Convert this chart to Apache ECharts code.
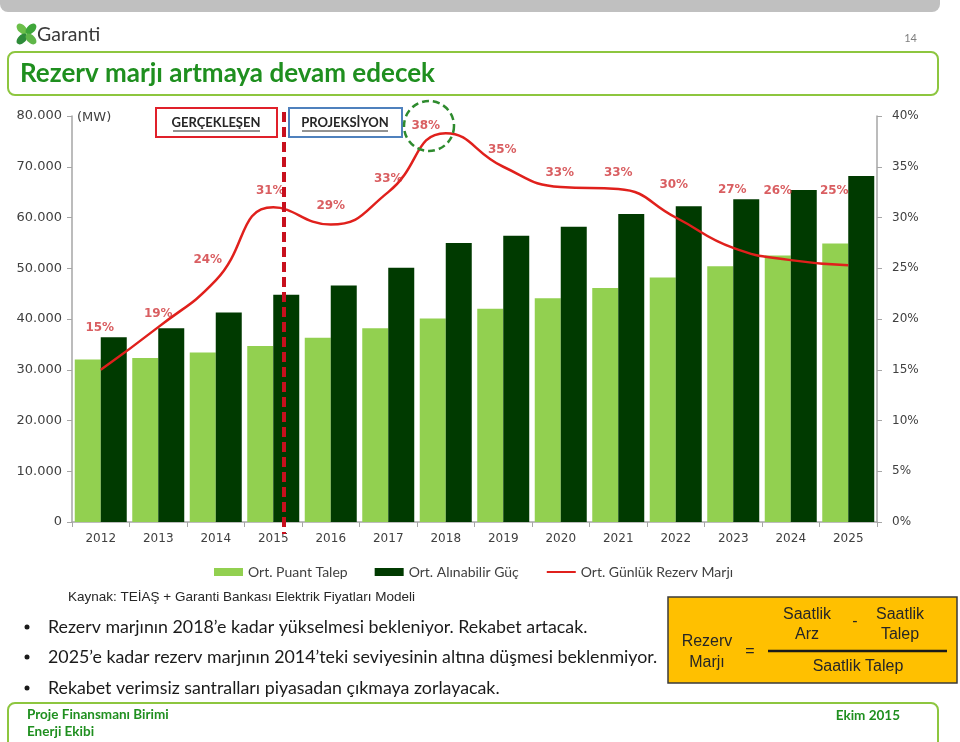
<!DOCTYPE html>
<html><head><meta charset="utf-8">
<script src="https://cdn.jsdelivr.net/npm/echarts@6/dist/echarts.min.js"></script>
<style>html,body{margin:0;padding:0;background:#fff}#c{width:960px;height:742px}</style>
</head><body><div id="c"></div>
<script>
// ---- data ----
const years = ['2012','2013','2014','2015','2016','2017','2018','2019','2020','2021','2022','2023','2024','2025'];
const peakDemand = [32000, 32300, 33400, 34700, 36300, 38200, 40100, 42000, 44100, 46100, 48200, 50400, 52500, 54900];
const availableCapacity = [36400, 38200, 41300, 44800, 46600, 50100, 55000, 56400, 58200, 60700, 62200, 63600, 65400, 68200];
const reserveMargin = [15, 19.2, 23.8, 31, 29.3, 32.5, 38.3, 35, 33, 32.8, 30, 27, 25.8, 25.3];
const seriesNames = ['Ort. Puant Talep', 'Ort. Alınabilir Güç', 'Ort. Günlük Rezerv Marjı'];
const bullets = [
  'Rezerv marjının 2018’e kadar yükselmesi bekleniyor. Rekabet artacak.',
  '2025’e kadar rezerv marjının 2014’teki seviyesinin altına düşmesi beklenmiyor.',
  'Rekabet verimsiz santralları piyasadan çıkmaya zorlayacak.'
];
// label placement (style only)
const labelOffsets = [[-1,-35],[0,-7],[-8,-14],[-3,-10],[0,-12],[0,-7],[-20,-1],[-1,-10],[-1,-8],[0,-10],[-2,-26],[-1,-52],[-13,-63],[-14,-68]];

const chart = echarts.init(document.getElementById('c'), null, {renderer:'canvas'});
const green = '#1f8f1f';
const lineGreen = '#8dc63f';
const graphics = [
  // top gray bar
  {type:'rect', shape:{x:0,y:-10,width:940,height:22,r:8}, style:{fill:'#c0c0c0'}},
  // logo clover
  {type:'ellipse', shape:{cx:22,cy:29,rx:4,ry:6.5}, rotation:Math.PI/4, originX:22, originY:29, style:{fill:'#6cbf4a'}},
  {type:'ellipse', shape:{cx:31,cy:29,rx:4,ry:6.5}, rotation:-Math.PI/4, originX:31, originY:29, style:{fill:'#3ea63a'}},
  {type:'ellipse', shape:{cx:22,cy:39,rx:4,ry:6.5}, rotation:-Math.PI/4, originX:22, originY:39, style:{fill:'#2e8b3a'}},
  {type:'ellipse', shape:{cx:31,cy:39,rx:4,ry:6.5}, rotation:Math.PI/4, originX:31, originY:39, style:{fill:'#5fb648'}},
  {type:'text', style:{x:37,y:35,text:'Garanti',font:'19.5px Lato, sans-serif',fill:'#3a3a3a',textAlign:'left',textVerticalAlign:'middle'}},
  {type:'text', style:{x:917,y:38,text:'14',font:'11px Lato, sans-serif',fill:'#7f7f7f',textAlign:'right',textVerticalAlign:'middle'}},
  // title box
  {type:'rect', shape:{x:8,y:52,width:930,height:43,r:7}, style:{fill:'#fff',stroke:lineGreen,lineWidth:2}},
  {type:'text', style:{x:20,y:74,text:'Rezerv marjı artmaya devam edecek',font:'bold 26px Lato, sans-serif',fill:green,textAlign:'left',textVerticalAlign:'middle'}},
  // (MW)
  {type:'text', style:{x:77,y:118,text:'(MW)',font:'13px "DejaVu Sans", sans-serif',fill:'#404040',textAlign:'left',textVerticalAlign:'middle'}},
  // GERÇEKLEŞEN box
  {type:'rect', z:20, shape:{x:156,y:108,width:121,height:29}, style:{fill:'#fff',stroke:'#e0202a',lineWidth:2}},
  {type:'text', z:21, style:{x:216,y:123,text:'GERÇEKLEŞEN',font:'bold 13px Lato, sans-serif',fill:'#262626',textAlign:'center',textVerticalAlign:'middle'}},
  {type:'line', z:21, shape:{x1:173,y1:131,x2:260,y2:131}, style:{stroke:'#262626',lineWidth:1}},
  // PROJEKSİYON box
  {type:'rect', z:20, shape:{x:289,y:108,width:113,height:29}, style:{fill:'#fff',stroke:'#4f81bd',lineWidth:2}},
  {type:'text', z:21, style:{x:345,y:123,text:'PROJEKSİYON',font:'bold 13px Lato, sans-serif',fill:'#262626',textAlign:'center',textVerticalAlign:'middle'}},
  {type:'line', z:21, shape:{x1:302,y1:131,x2:388,y2:131}, style:{stroke:'#262626',lineWidth:1}},
  // dashed divider
  {type:'line', z:30, shape:{x1:284,y1:112,x2:284,y2:534}, style:{stroke:'#c8101e',lineWidth:4,lineDash:[10,5]}},
  // green dashed circle around peak label
  {type:'circle', z:30, shape:{cx:429,cy:126,r:25}, style:{fill:'none',stroke:'#2e8b2e',lineWidth:2.5,lineDash:[7,4]}},
  // source
  {type:'text', style:{x:68,y:597,text:'Kaynak: TEİAŞ + Garanti Bankası Elektrik Fiyatları Modeli',font:'13.5px "Liberation Sans", Arial, sans-serif',fill:'#262626',textAlign:'left',textVerticalAlign:'middle'}},
  // formula box
  {type:'rect', shape:{x:668,y:597,width:289,height:86}, style:{fill:'#ffc000',stroke:'#3a3a3a',lineWidth:1.5}},
  {type:'text', style:{x:707,y:642,text:'Rezerv',font:'16px "Liberation Sans", Arial, sans-serif',fill:'#262626',textAlign:'center',textVerticalAlign:'middle'}},
  {type:'text', style:{x:707,y:663,text:'Marjı',font:'16px "Liberation Sans", Arial, sans-serif',fill:'#262626',textAlign:'center',textVerticalAlign:'middle'}},
  {type:'text', style:{x:750,y:652,text:'=',font:'16px "Liberation Sans", Arial, sans-serif',fill:'#262626',textAlign:'center',textVerticalAlign:'middle'}},
  {type:'text', style:{x:807,y:615,text:'Saatlik',font:'16px "Liberation Sans", Arial, sans-serif',fill:'#262626',textAlign:'center',textVerticalAlign:'middle'}},
  {type:'text', style:{x:807,y:635,text:'Arz',font:'16px "Liberation Sans", Arial, sans-serif',fill:'#262626',textAlign:'center',textVerticalAlign:'middle'}},
  {type:'text', style:{x:855,y:622,text:'-',font:'16px "Liberation Sans", Arial, sans-serif',fill:'#262626',textAlign:'center',textVerticalAlign:'middle'}},
  {type:'text', style:{x:900,y:615,text:'Saatlik',font:'16px "Liberation Sans", Arial, sans-serif',fill:'#262626',textAlign:'center',textVerticalAlign:'middle'}},
  {type:'text', style:{x:900,y:635,text:'Talep',font:'16px "Liberation Sans", Arial, sans-serif',fill:'#262626',textAlign:'center',textVerticalAlign:'middle'}},
  {type:'line', shape:{x1:768,y1:651,x2:947,y2:651}, style:{stroke:'#1a1a1a',lineWidth:2.5}},
  {type:'text', style:{x:858,y:667,text:'Saatlik Talep',font:'16px "Liberation Sans", Arial, sans-serif',fill:'#262626',textAlign:'center',textVerticalAlign:'middle'}},
  // footer box
  {type:'rect', shape:{x:8,y:703,width:930,height:60,r:7}, style:{fill:'#fff',stroke:lineGreen,lineWidth:2}},
  {type:'text', style:{x:27,y:715,text:'Proje Finansmanı Birimi',font:'bold 13.5px Lato, sans-serif',fill:green,textAlign:'left',textVerticalAlign:'middle'}},
  {type:'text', style:{x:27,y:732,text:'Enerji Ekibi',font:'bold 13.5px Lato, sans-serif',fill:green,textAlign:'left',textVerticalAlign:'middle'}},
  {type:'text', style:{x:900,y:716,text:'Ekim 2015',font:'bold 13.5px Lato, sans-serif',fill:green,textAlign:'right',textVerticalAlign:'middle'}}
];
const bulletY = [627, 657, 688];
bullets.forEach((t,i)=>{
  graphics.push({type:'circle', shape:{cx:27,cy:bulletY[i],r:2.5}, style:{fill:'#1a1a1a'}});
  graphics.push({type:'text', style:{x:48,y:bulletY[i],text:t,font:'17.8px Lato, sans-serif',fill:'#1a1a1a',textAlign:'left',textVerticalAlign:'middle'}});
});

const axisColor = '#a6a6a6';
const option = {
  animation:false,
  backgroundColor:'#fff',
  grid:{left:72,right:83,top:116,bottom:220},
  legend:{
    data:[{name:seriesNames[0],icon:'rect'},{name:seriesNames[1],icon:'rect'},{name:seriesNames[2],itemStyle:{opacity:0}}],
    left:209, top:560, itemWidth:29, itemHeight:8, itemGap:27,
    textStyle:{fontFamily:'Lato, sans-serif',fontSize:14,color:'#404040'}
  },
  xAxis:{type:'category',data:years,
    axisLine:{lineStyle:{color:axisColor,width:1.5}},
    axisTick:{show:true,length:5,lineStyle:{color:axisColor}},
    axisLabel:{color:'#404040',fontSize:12,fontFamily:'"DejaVu Sans", sans-serif',margin:11}},
  yAxis:[
    {type:'value',min:0,max:80000,interval:10000,
     splitLine:{show:false},
     axisLine:{show:true,lineStyle:{color:axisColor,width:1.5}},
     axisTick:{show:true,length:5,lineStyle:{color:axisColor}},
     axisLabel:{color:'#404040',fontSize:13,fontFamily:'"DejaVu Sans", sans-serif',margin:10,
       formatter:v=> v===0 ? '0' : (v/1000)+'.000'}},
    {type:'value',min:0,max:40,interval:5,position:'right',
     splitLine:{show:false},
     axisLine:{show:true,lineStyle:{color:axisColor,width:1.5}},
     axisTick:{show:true,length:5,lineStyle:{color:axisColor}},
     axisLabel:{color:'#404040',fontSize:12,fontFamily:'"DejaVu Sans", sans-serif',margin:15,formatter:'{value}%'}}
  ],
  series:[
    {name:seriesNames[0],type:'bar',data:peakDemand,barWidth:26,barGap:'0%',itemStyle:{color:'#92d050'}},
    {name:seriesNames[1],type:'bar',data:availableCapacity,barWidth:26,barGap:'0%',itemStyle:{color:'#003a00'}},
    {name:seriesNames[2],type:'line',yAxisIndex:1,data:reserveMargin,smooth:true,symbol:'none',z:5,
     lineStyle:{color:'#e0201c',width:2.5},itemStyle:{color:'#e0201c'}},
    {name:'labels',type:'scatter',yAxisIndex:1,z:6,symbolSize:1,itemStyle:{color:'rgba(0,0,0,0)'},
     data:reserveMargin.map((v,i)=>({value:v,label:{offset:labelOffsets[i]}})),
     label:{show:true,position:'top',distance:0,formatter:p=>Math.round(p.value)+'%',
       fontFamily:'"DejaVu Sans", sans-serif',fontWeight:'bold',fontSize:12,color:'#d0363a'}}
  ],
  graphic:{elements:graphics}
};
chart.setOption(option);
</script>
</body></html>
